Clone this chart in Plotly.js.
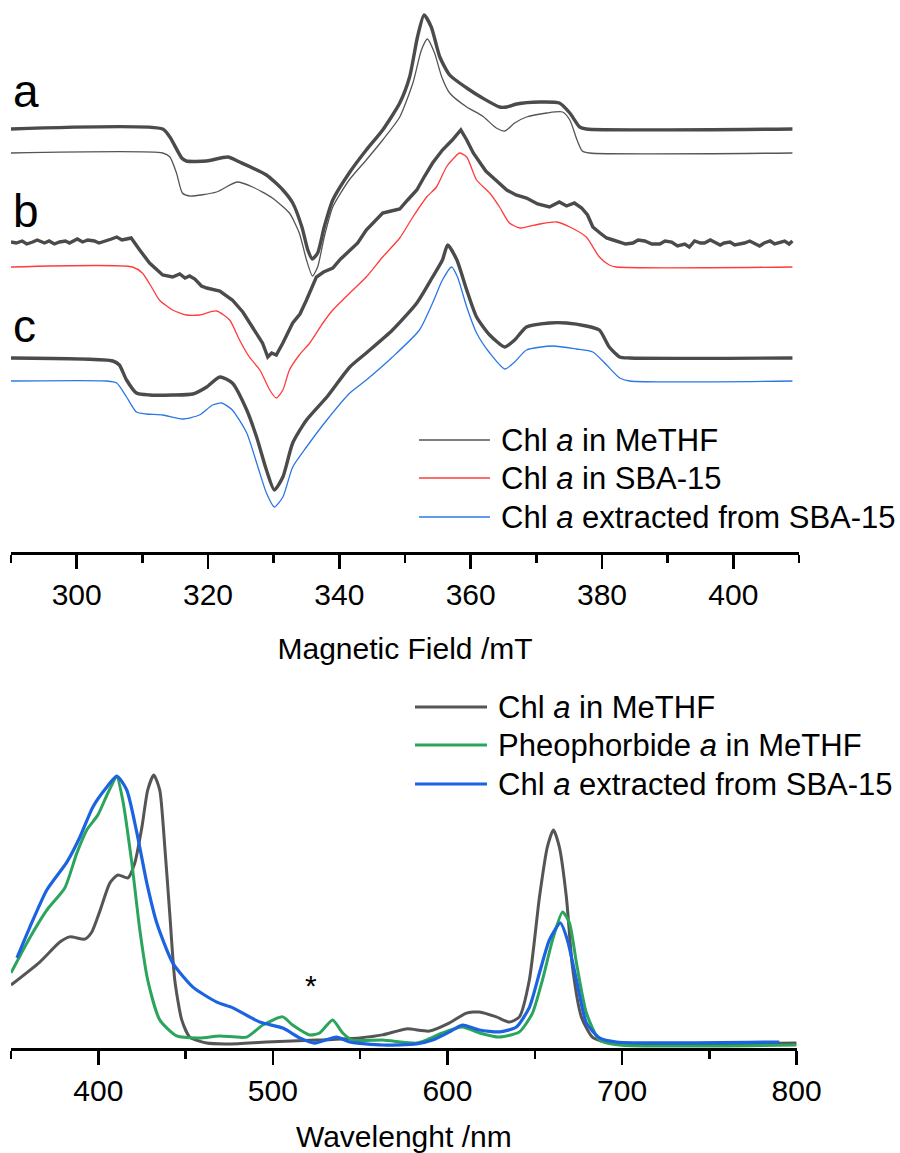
<!DOCTYPE html>
<html>
<head>
<meta charset="utf-8">
<script src="https://cdn.plot.ly/plotly-3.0.1.min.js"></script>
<style>html,body{margin:0;padding:0;background:#fff;}#chart{width:900px;height:1153px;}</style>
</head>
<body>
<div id="chart"></div>
<script>
// ---------- EPR spectra (magnetic field in mT, intensity in arbitrary units incl. vertical offset) ----------
const eprA_exp_B = [290.0, 313.1, 314.2, 316.0, 316.7, 319.8, 323.0, 324.8, 328.9, 331.4, 332.9, 334.3, 335.2, 335.9, 336.7, 337.7, 339.0, 341.5, 344.1, 346.6, 349.2, 350.7, 351.9, 352.9, 354.0, 355.3, 356.8, 359.4, 361.8, 364.4, 365.5, 367.0, 370.5, 373.5, 375.1, 376.6, 377.6, 409.0];
const eprA_exp_I = [423, 423, 415, 394, 391, 391, 395, 390, 377, 362, 349, 325, 302, 293, 299, 325, 352, 379, 402, 422, 449, 475, 515, 537, 525, 495, 477, 464, 454, 445, 445, 448, 450, 449, 439, 425, 423, 423];

const eprA_sim_B = [290.0, 313.1, 314.2, 315.2, 316.1, 317.2, 321.3, 324.4, 326.8, 329.8, 332.4, 333.9, 335.0, 335.9, 336.7, 337.7, 339.0, 341.5, 344.1, 346.6, 349.2, 351.2, 352.5, 353.4, 354.5, 355.6, 356.8, 359.4, 361.8, 363.9, 365.2, 366.7, 368.5, 371.6, 374.0, 375.1, 376.2, 377.0, 378.1, 409.0];
const eprA_sim_I = [399, 399, 395, 379, 359, 356, 360, 370, 365, 354, 339, 319, 292, 276, 285, 315, 345, 372, 392, 412, 435, 469, 502, 513, 499, 475, 459, 445, 436, 424, 421, 429, 435, 439, 440, 432, 412, 401, 399, 399];

const eprB_exp_B = [290.0, 290.8, 291.7, 292.4, 293.3, 294.0, 295.1, 295.8, 296.6, 297.4, 298.3, 298.9, 300.1, 300.9, 301.7, 302.7, 303.4, 304.0, 305.3, 306.1, 306.9, 307.6, 308.3, 309.6, 311.1, 313.1, 314.6, 315.7, 316.5, 317.2, 318.0, 319.0, 319.8, 321.8, 323.7, 325.3, 326.8, 328.3, 329.1, 329.7, 330.4, 331.4, 332.9, 334.0, 335.0, 336.5, 337.6, 339.0, 340.2, 341.6, 342.8, 344.1, 345.3, 346.6, 347.9, 349.2, 350.4, 351.8, 353.0, 354.2, 355.7, 357.2, 358.5, 359.4, 360.4, 361.4, 362.3, 363.3, 364.4, 365.5, 366.9, 368.5, 370.2, 372.0, 373.5, 374.6, 375.8, 376.9, 377.8, 378.6, 379.7, 380.7, 381.7, 382.7, 383.6, 384.7, 385.5, 386.5, 387.6, 388.8, 389.6, 390.6, 391.5, 392.6, 393.3, 394.1, 395.0, 395.6, 396.5, 397.1, 398.0, 398.6, 399.5, 400.2, 401.0, 401.7, 402.5, 403.2, 404.0, 404.7, 405.6, 406.3, 407.1, 407.8, 408.5, 409.0];
const eprB_exp_I = [310, 309, 311, 308, 310, 312, 309, 311, 308, 310, 311, 309, 313, 310, 312, 311, 309, 310, 313, 315, 312, 313, 314, 302, 289, 277, 275, 278, 274, 276, 273, 266, 264, 261, 252, 240, 225, 209, 195, 199, 197, 209, 229, 238, 252, 275, 280, 284, 293, 302, 309, 322, 330, 339, 341, 343, 352, 362, 376, 389, 402, 412, 422, 412, 399, 389, 381, 375, 368, 362, 357, 354, 348, 345, 350, 346, 349, 344, 337, 325, 319, 314, 312, 310, 308, 309, 312, 311, 308, 308, 311, 310, 306, 308, 305, 311, 309, 309, 312, 310, 307, 309, 310, 307, 308, 309, 311, 309, 306, 309, 311, 308, 310, 311, 308, 311];

const eprB_sim_B = [290.0, 308.5, 310.0, 311.4, 312.6, 314.6, 316.7, 318.7, 321.3, 323.3, 324.8, 326.3, 327.9, 329.4, 330.4, 331.4, 332.4, 333.9, 335.5, 337.5, 339.0, 341.6, 344.1, 346.6, 349.2, 351.2, 353.3, 354.8, 356.3, 357.6, 358.3, 359.4, 360.9, 362.9, 364.4, 365.9, 367.5, 370.5, 373.1, 375.1, 377.6, 379.6, 381.1, 382.2, 409.0];
const eprB_sim_I = [285, 285, 279, 265, 252, 242, 237, 237, 241, 232, 212, 195, 182, 162, 154, 162, 182, 197, 209, 229, 242, 259, 275, 295, 314, 335, 355, 365, 385, 395, 399, 395, 372, 359, 345, 329, 324, 328, 330, 325, 315, 295, 287, 285, 285];

const eprC_exp_B = [290.0, 305.5, 306.5, 307.6, 309.1, 311.1, 314.6, 317.7, 319.8, 321.8, 323.7, 325.9, 327.4, 328.9, 330.1, 331.4, 332.9, 335.0, 338.1, 341.6, 344.1, 348.1, 351.8, 354.2, 355.7, 356.5, 357.9, 359.4, 360.9, 362.9, 365.2, 366.7, 368.5, 372.0, 374.6, 377.6, 379.6, 381.1, 382.7, 384.2, 409.0];
const eprC_exp_I = [194, 191, 187, 172, 159, 157, 157, 158, 165, 175, 169, 142, 115, 82, 62, 75, 109, 132, 155, 185, 199, 222, 249, 275, 292, 307, 292, 262, 235, 217, 205, 212, 225, 229, 229, 226, 222, 205, 195, 194, 194];

const eprC_sim_B = [290.0, 304.6, 306.1, 307.6, 309.1, 310.6, 313.1, 316.1, 318.7, 320.7, 322.1, 323.7, 325.9, 327.6, 328.9, 330.1, 331.4, 332.9, 335.0, 338.1, 341.6, 344.1, 348.1, 352.2, 354.2, 355.7, 357.1, 358.0, 359.4, 360.9, 362.9, 365.2, 366.7, 368.5, 372.5, 376.1, 378.6, 380.7, 382.7, 384.2, 409.0];
const eprC_sim_I = [171, 171, 169, 155, 140, 138, 137, 133, 137, 147, 149, 142, 119, 85, 59, 45, 55, 85, 105, 132, 159, 172, 195, 222, 249, 272, 285, 275, 245, 219, 199, 183, 190, 202, 206, 203, 200, 187, 174, 171, 171];

const eprNames = ["Chl <i>a</i> in MeTHF", "Chl <i>a</i> in SBA-15", "Chl <i>a</i> extracted from SBA-15"];
const eprLetters = ["a", "b", "c"];
const eprTicks = [300, 320, 340, 360, 380, 400];

// ---------- UV-Vis spectra (wavelength in nm, normalised absorbance) ----------
const uvChl_wl = [350, 366.5, 378, 383.7, 392.3, 396.3, 401.1, 406.6, 411.2, 417, 420.9, 425, 428.3, 431.8, 435.2, 438.1, 440.9, 443.8, 447.8, 452.4, 462.1, 475.3, 496.4, 525.1, 549.7, 562.8, 576.5, 589.7, 601.2, 610.9, 618.3, 628, 635.5, 641.2, 646.9, 652.7, 657.2, 660.7, 664.1, 668.1, 671.6, 676.7, 683, 692.7, 800];
const uvChl_abs = [0.231, 0.315, 0.388, 0.407, 0.399, 0.425, 0.505, 0.604, 0.634, 0.623, 0.678, 0.810, 0.945, 1.0, 0.945, 0.736, 0.495, 0.249, 0.103, 0.040, 0.018, 0.015, 0.022, 0.029, 0.037, 0.048, 0.070, 0.062, 0.092, 0.128, 0.132, 0.114, 0.095, 0.114, 0.249, 0.553, 0.736, 0.799, 0.736, 0.553, 0.297, 0.114, 0.040, 0.018, 0.018];

const uvPheo_wl = [350, 359.1, 370.5, 380.8, 387.7, 393.4, 399.7, 405.5, 410.6, 414, 419.2, 423.8, 428.3, 435.2, 444.9, 458.1, 469.5, 485, 494.2, 505.6, 511.3, 521.1, 526.8, 534.2, 540, 545.7, 562.8, 582.3, 587.9, 597, 608.5, 618.3, 629.8, 641.2, 648.7, 654.4, 660.2, 665.9, 669.9, 673.9, 679.6, 687.1, 698.5, 800];
const uvPheo_abs = [0.275, 0.385, 0.505, 0.586, 0.714, 0.799, 0.853, 0.934, 0.993, 0.908, 0.678, 0.432, 0.249, 0.103, 0.044, 0.037, 0.044, 0.040, 0.084, 0.114, 0.084, 0.048, 0.055, 0.103, 0.055, 0.029, 0.029, 0.018, 0.029, 0.055, 0.077, 0.055, 0.040, 0.059, 0.128, 0.249, 0.396, 0.498, 0.458, 0.311, 0.128, 0.029, 0.011, 0.011];

const uvExt_wl = [353.4, 360.8, 370.5, 382, 389.5, 396.9, 404.9, 410.6, 416.3, 422.1, 427.8, 433.5, 442.7, 454.2, 467.9, 477.1, 492.5, 505.7, 515.4, 524, 536.5, 544, 562.8, 582.3, 591.5, 601.2, 608.6, 618.3, 629.8, 639.5, 647, 652.7, 658.4, 664.7, 668.7, 673.9, 679.6, 687.1, 696.8, 790.1];
const uvExt_abs = [0.330, 0.443, 0.579, 0.681, 0.773, 0.883, 0.956, 0.996, 0.945, 0.788, 0.604, 0.458, 0.311, 0.223, 0.168, 0.147, 0.095, 0.073, 0.037, 0.018, 0.040, 0.022, 0.011, 0.015, 0.029, 0.059, 0.084, 0.066, 0.059, 0.077, 0.150, 0.275, 0.396, 0.458, 0.396, 0.249, 0.092, 0.037, 0.022, 0.022];

const uvNames = ["Chl <i>a</i> in MeTHF", "Pheophorbide <i>a</i> in MeTHF", "Chl <i>a</i> extracted from SBA-15"];
const uvTicks = [400, 500, 600, 700, 800];
const starMark = {wl: 521.6, abs: 0.228, text: "*"};

// ---------- styling ----------
const FONT = "Liberation Sans, Arial, Helvetica, sans-serif";
const THICK = "#4b4b4b";
const colThinGray = "#555555", colRed = "#ff3b3b", colBlueTop = "#2a78e4";
const colUvGray = "#555555", colUvGreen = "#2ba55c", colUvBlue = "#1b63e0";

// plot area: 788 x 1048 px (margins l=11, r=101, t=0, b=105)
const PW = 788, PH = 1048;
const px2x = p => (p - 11) / PW;
const py2y = p => (PH - p) / PH;

function line(x, y, name, color, width, axes, shape) {
  return {x: x, y: y, name: name, type: "scatter", mode: "lines",
    xaxis: axes[0], yaxis: axes[1], showlegend: false, hoverinfo: "skip",
    line: {color: color, width: width, shape: shape || "spline", smoothing: 0.6}};
}

const traces = [
  line(eprA_sim_B, eprA_sim_I, eprNames[0], colThinGray, 1.3, ["x", "y"]),
  line(eprA_exp_B, eprA_exp_I, "a (exp.)", THICK, 3.4, ["x", "y"]),
  line(eprB_sim_B, eprB_sim_I, eprNames[1], colRed, 1.3, ["x", "y"]),
  line(eprB_exp_B, eprB_exp_I, "b (exp.)", THICK, 3.4, ["x", "y"], "linear"),
  line(eprC_sim_B, eprC_sim_I, eprNames[2], colBlueTop, 1.3, ["x", "y"]),
  line(eprC_exp_B, eprC_exp_I, "c (exp.)", THICK, 3.4, ["x", "y"]),
  line(uvChl_wl, uvChl_abs, uvNames[0], colUvGray, 3, ["x2", "y2"]),
  line(uvPheo_wl, uvPheo_abs, uvNames[1], colUvGreen, 3, ["x2", "y2"]),
  line(uvExt_wl, uvExt_abs, uvNames[2], colUvBlue, 3.2, ["x2", "y2"])
];

function xAxis(range, ticks, minorStep, minor0, title, anchor, domain, standoff) {
  return {
    domain: domain, anchor: anchor, range: range,
    tickmode: "array", tickvals: ticks, ticktext: ticks.map(String),
    ticks: "outside", ticklen: 14, tickwidth: 2.5, tickcolor: "#000",
    showline: true, linewidth: 2.5, linecolor: "#000",
    showgrid: false, zeroline: false, fixedrange: true,
    tickfont: {family: FONT, size: 30, color: "#000"},
    minor: {dtick: minorStep, tick0: minor0, ticks: "outside", ticklen: 8, tickwidth: 2.5, tickcolor: "#000", showgrid: false},
    title: {text: title, font: {family: FONT, size: 30, color: "#000"}, standoff: standoff}
  };
}

const shapes = [], annotations = [];
// top legend
const topLegY = [440, 478, 517];
const topLegCol = [colThinGray, colRed, colBlueTop];
for (let i = 0; i < 3; i++) {
  shapes.push({type: "line", xref: "paper", yref: "paper", x0: px2x(419), x1: px2x(490),
    y0: py2y(topLegY[i]), y1: py2y(topLegY[i]), line: {color: topLegCol[i], width: 1.5}});
  annotations.push({xref: "paper", yref: "paper", x: px2x(499), y: py2y(topLegY[i]),
    xanchor: "left", yanchor: "middle", showarrow: false, text: eprNames[i],
    font: {family: FONT, size: 31, color: "#000"}});
}
// bottom legend
const botLegY = [707, 745, 784];
const botLegCol = [colUvGray, colUvGreen, colUvBlue];
for (let i = 0; i < 3; i++) {
  shapes.push({type: "line", xref: "paper", yref: "paper", x0: px2x(415), x1: px2x(487),
    y0: py2y(botLegY[i]), y1: py2y(botLegY[i]), line: {color: botLegCol[i], width: 3.2}});
  annotations.push({xref: "paper", yref: "paper", x: px2x(496), y: py2y(botLegY[i]),
    xanchor: "left", yanchor: "middle", showarrow: false, text: uvNames[i],
    font: {family: FONT, size: 31, color: "#000"}});
}
// panel letters
const letterY = [91, 211, 326];
for (let i = 0; i < 3; i++) {
  annotations.push({xref: "paper", yref: "paper", x: px2x(11), y: py2y(letterY[i]),
    xanchor: "left", yanchor: "middle", showarrow: false, text: eprLetters[i],
    font: {family: FONT, size: 46, color: "#000"}});
}
// asterisk
annotations.push({xref: "x2", yref: "y2", x: starMark.wl, y: starMark.abs, xanchor: "center", yanchor: "middle",
  showarrow: false, text: starMark.text, font: {family: FONT, size: 30, color: "#000"}});

const layout = {
  width: 900, height: 1153,
  margin: {l: 11, r: 101, t: 0, b: 105, pad: 0},
  paper_bgcolor: "#fff", plot_bgcolor: "rgba(0,0,0,0)",
  showlegend: false,
  font: {family: FONT, color: "#000"},
  xaxis: xAxis([290, 410], eprTicks, 10, 290, "Magnetic Field /mT", "y", [0, 1], 29),
  yaxis: {domain: [py2y(552), 1], range: [0, 552], visible: false, fixedrange: true},
  xaxis2: xAxis([350, 800], uvTicks, 50, 350, "Wavelenght /nm", "y2", [0, 0.997], 21),
  yaxis2: {domain: [0, py2y(760)], range: [0, 1.055], visible: false, fixedrange: true},
  shapes: shapes,
  annotations: annotations
};

Plotly.newPlot("chart", traces, layout, {displayModeBar: false, staticPlot: true});
</script>
</body>
</html>
